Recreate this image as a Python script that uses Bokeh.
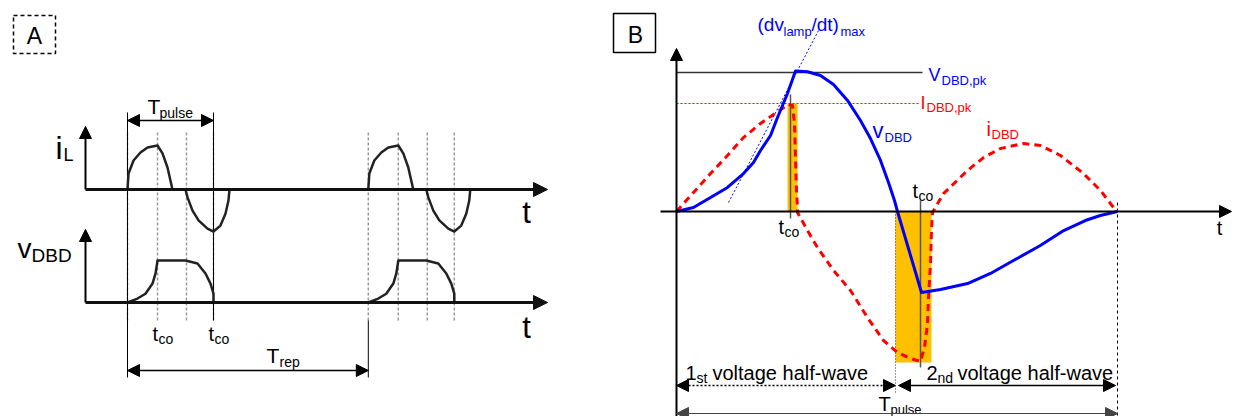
from bokeh.plotting import figure
from bokeh.models import Range1d, Arrow, NormalHead
from bokeh.layouts import row
from bokeh.core.properties import value
from bokeh.embed import file_html
from bokeh.resources import INLINE

FONT = "Liberation Sans"

# ---------------- Panel A data: time in units of T_pulse, amplitude normalised ----------------
A_T_PULSE = 1.0
A_T_REP = 2.80
A_MARK_T = [0.0, 0.349, 0.686, 1.0]
A_TCO_T = [0.349, 1.0]
A_IL_T = [0.0, 0.012, 0.07, 0.151, 0.233, 0.349, 0.407, 0.465, 0.5, 0.523,
          0.674, 0.698, 0.756, 0.826, 0.93, 1.0, 1.081, 1.14, 1.174, 1.186]
A_IL_Y = [0.0, 0.364, 0.66, 0.84, 0.955, 1.0, 0.82, 0.5, 0.2, 0.0,
          0.0, -0.18, -0.48, -0.7, -0.89, -0.955, -0.82, -0.545, -0.25, 0.0]
A_V_T = [0.0, 0.116, 0.209, 0.291, 0.326, 0.349, 0.674, 0.814, 0.907, 0.965, 1.0, 1.0]
A_V_Y = [0.0, 0.09, 0.2, 0.43, 0.66, 0.955, 0.955, 0.886, 0.66, 0.43, 0.2, 0.0]

# ---------------- Panel B data: time in units of T_pulse, amplitude normalised to V_DBD,pk ----
B_T_PULSE = 1.0
B_T_HALF = 0.4966
B_VPK = 1.0
B_IPK = 0.777
B_TCO_T = [0.2585, 0.5533]
B_SHADE_L = [0.2517, 0.4966]
B_SHADE_R = [0.2744, 0.5782]
B_SHADE_B = [0.0, -1.086]
B_SHADE_T = [0.777, 0.0]
B_V_T = [0.0, 0.0385, 0.0771, 0.1156, 0.1519, 0.1746, 0.1905, 0.2132, 0.2290, 0.2517,
         0.2698, 0.2971, 0.3265, 0.356, 0.3878, 0.4172, 0.4399, 0.4626, 0.4807, 0.4943,
         0.5011, 0.5556, 0.5986, 0.6599, 0.712, 0.764, 0.825, 0.878, 0.927, 0.961, 1.0]
B_V_Y = [0.0, 0.029, 0.101, 0.173, 0.273, 0.353, 0.439, 0.547, 0.676, 0.849,
         1.01, 1.005, 0.978, 0.914, 0.799, 0.655, 0.525, 0.367, 0.209, 0.079,
         0.0, -0.583, -0.561, -0.518, -0.446, -0.353, -0.245, -0.137, -0.065, -0.029, 0.0]
B_I_T = [0.0, 0.0385, 0.0771, 0.1156, 0.1519, 0.1905, 0.2200, 0.2540, 0.2630, 0.2676,
         0.2698, 0.2721, 0.2744, 0.2744, 0.2971, 0.3197, 0.3560, 0.3946, 0.4331, 0.4694,
         0.5011, 0.5306, 0.5533, 0.5624, 0.5692, 0.5714, 0.5760, 0.5782, 0.5805, 0.6054,
         0.6599, 0.6961, 0.7347, 0.7868, 0.8254, 0.8707, 0.9229, 0.9615, 0.9909, 1.0]
B_I_Y = [0.0, 0.137, 0.273, 0.403, 0.532, 0.633, 0.698, 0.770, 0.763, 0.633,
         0.388, 0.151, 0.029, -0.007, -0.137, -0.259, -0.424, -0.568, -0.763, -0.928,
         -1.014, -1.058, -1.079, -0.978, -0.806, -0.619, -0.374, -0.137, -0.007, 0.129,
         0.295, 0.388, 0.453, 0.489, 0.475, 0.403, 0.273, 0.151, 0.029, 0.0]
B_TAN_T = [0.118, 0.322]
B_TAN_Y = [0.065, 1.302]

BLUE = "#0000FF"
RED = "#FF0000"
ORANGE = "#FFC000"
H = 416
TXT_SHIFT = 0.33   # empirical baseline correction (fraction of font size)


# page-pixel -> data helpers (layout only)
def A_x(px):
    return (px - 127) / 86


def A_y(py):
    return (302 - py) / 44


def B_x(px):
    return (px - 676) / 441


def B_y(py):
    return (211 - py) / 139


def make_fig(w, x0, x1, y0, y1):
    p = figure(width=w, height=H, x_range=Range1d(x0, x1), y_range=Range1d(y0, y1),
               output_backend="svg", toolbar_location=None, x_axis_type=None,
               y_axis_type=None, min_border=0)
    p.grid.visible = False
    p.outline_line_color = None
    return p


def lbl(p, cx, cy, px, py, s, size, color="black", align="left"):
    p.text(x=[cx(px)], y=[cy(py - TXT_SHIFT * size)], text=[s], text_font=value(FONT),
           text_font_size=f"{size}px", text_color=color, text_align=align,
           text_baseline="alphabetic")


def arrow(p, x0, y0, x1, y1, color="black", width=1.5, dash="solid", both=False, size=12):
    end = NormalHead(size=size, fill_color=color, line_color=color, line_width=1)
    start = NormalHead(size=size, fill_color=color, line_color=color, line_width=1) if both else None
    p.add_layout(Arrow(start=start, end=end, x_start=x0, y_start=y0, x_end=x1, y_end=y1,
                       line_color=color, line_width=width, line_dash=dash))


# ======================= Panel A =======================
pA = make_fig(600, A_x(0), A_x(600), A_y(H), A_y(0))
IL_OFF = A_y(189)

for k in range(2):
    for t in A_MARK_T:
        tt = t + k * A_T_REP
        pA.line([tt, tt], [A_y(132), A_y(320)], line_color="#9a9a9a", line_width=1.5, line_dash="3 2")
pA.line([0, 0], [A_y(112), A_y(377)], line_color="black", line_width=1)
pA.line([A_T_PULSE, A_T_PULSE], [A_y(112), A_y(320)], line_color="black", line_width=1)
pA.line([A_T_REP, A_T_REP], [A_y(320), A_y(377)], line_color="black", line_width=1)

arrow(pA, A_x(85), IL_OFF, A_x(85), A_y(126), width=2, size=12)
arrow(pA, A_x(85), 0, A_x(85), A_y(229), width=2, size=12)
arrow(pA, A_x(85), IL_OFF, A_x(547), IL_OFF, color="#111111", width=3, size=14)
arrow(pA, A_x(85), 0, A_x(547), 0, color="#111111", width=3, size=14)

for k in range(2):
    pA.line([t + k * A_T_REP for t in A_IL_T], [y + IL_OFF for y in A_IL_Y],
            line_color="#222222", line_width=2.5, line_join="round")
    pA.line([t + k * A_T_REP for t in A_V_T], A_V_Y,
            line_color="#222222", line_width=2.5, line_join="round")

arrow(pA, 0, A_y(120), A_T_PULSE, A_y(120), width=1.5, both=True, size=12)
arrow(pA, 0, A_y(370), A_T_REP, A_y(370), width=1.5, both=True, size=12)

pA.quad(left=[A_x(13)], right=[A_x(55)], bottom=[A_y(53)], top=[A_y(15)],
        fill_color=None, line_color="black", line_width=1.5, line_dash="4 3")
lbl(pA, A_x, A_y, 34, 43, "A", 23, align="center")

lbl(pA, A_x, A_y, 147, 113, "T", 21)
lbl(pA, A_x, A_y, 159, 117, "pulse", 14)
lbl(pA, A_x, A_y, 55, 158, "i", 32)
lbl(pA, A_x, A_y, 63, 160, "L", 18)
lbl(pA, A_x, A_y, 17, 257, "v", 28)
lbl(pA, A_x, A_y, 31, 261, "DBD", 19)
lbl(pA, A_x, A_y, 526, 222, "t", 31, align="center")
lbl(pA, A_x, A_y, 526, 337, "t", 31, align="center")
for t in A_TCO_T:
    px0 = 127 + 86 * t
    lbl(pA, A_x, A_y, px0 - 5, 340, "t", 20)
    lbl(pA, A_x, A_y, px0 + 1, 343, "co", 14)
lbl(pA, A_x, A_y, 266, 362, "T", 21)
lbl(pA, A_x, A_y, 279, 366, "rep", 14)

# ======================= Panel B =======================
pB = make_fig(633, B_x(600), B_x(1233), B_y(H), B_y(0))

pB.quad(left=B_SHADE_L, right=B_SHADE_R, bottom=B_SHADE_B, top=B_SHADE_T,
        fill_color=ORANGE, line_color=None)

pB.line([0, B_x(922)], [B_VPK, B_VPK], line_color="#333333", line_width=1.5)
pB.line([0, B_x(920)], [B_IPK, B_IPK], line_color=RED, line_width=1, line_dash="2 2")
pB.line([B_TCO_T[0], B_TCO_T[0]], [B_y(94), B_y(218)], line_color="#555555", line_width=1.5)
pB.line([B_TCO_T[1], B_TCO_T[1]], [B_y(200), B_y(367)], line_color="#555555", line_width=1.5)
pB.line([B_T_HALF, B_T_HALF], [0, B_y(392)], line_color="#333333", line_width=1, line_dash="1 2")
pB.line([B_T_PULSE, B_T_PULSE], [B_y(202), B_y(H)], line_color="black", line_width=1, line_dash="3 3")

arrow(pB, 0, B_y(H), 0, B_y(48), width=2, size=12)
arrow(pB, B_x(660), 0, B_x(1231), 0, width=2, size=12)

pB.line(B_TAN_T, B_TAN_Y, line_color=BLUE, line_width=1, line_dash="2 2")

pB.line(B_I_T, B_I_Y, line_color=RED, line_width=3, line_dash="7 5", line_join="round")
pB.line(B_V_T, B_V_Y, line_color=BLUE, line_width=3, line_join="round")

arrow(pB, 0, B_y(385), B_T_HALF, B_y(385), width=1.5, dash="2 2", both=True, size=12)
arrow(pB, B_x(898), B_y(385), B_x(1115), B_y(385), width=1.5, both=True, size=12)
arrow(pB, 0, B_y(413), B_T_PULSE, B_y(413), color="#444444", width=1, both=True, size=12)

pB.quad(left=[B_x(613)], right=[B_x(655)], bottom=[B_y(52)], top=[B_y(13)],
        fill_color=None, line_color="black", line_width=1.5)
lbl(pB, B_x, B_y, 635, 42, "B", 23, align="center")

lbl(pB, B_x, B_y, 757, 30, "(dv", 19, BLUE)
lbl(pB, B_x, B_y, 783, 35, "lamp", 13, BLUE)
lbl(pB, B_x, B_y, 811, 30, "/dt)", 19, BLUE)
lbl(pB, B_x, B_y, 840, 35, "max", 13, BLUE)
lbl(pB, B_x, B_y, 928, 80, "V", 18, BLUE)
lbl(pB, B_x, B_y, 941, 84, "DBD,pk", 13, BLUE)
lbl(pB, B_x, B_y, 920, 108, "I", 18, RED)
lbl(pB, B_x, B_y, 926, 111, "DBD,pk", 13, RED)
lbl(pB, B_x, B_y, 872, 137, "v", 22, BLUE)
lbl(pB, B_x, B_y, 884, 141, "DBD", 13, BLUE)
lbl(pB, B_x, B_y, 986, 135, "i", 20, RED)
lbl(pB, B_x, B_y, 991, 138, "DBD", 13, RED)
lbl(pB, B_x, B_y, 1219, 234, "t", 20, align="center")
lbl(pB, B_x, B_y, 912, 197, "t", 20)
lbl(pB, B_x, B_y, 918, 200, "co", 14)
lbl(pB, B_x, B_y, 778, 233, "t", 20)
lbl(pB, B_x, B_y, 784, 236, "co", 14)
lbl(pB, B_x, B_y, 685, 379, "1", 20)
lbl(pB, B_x, B_y, 696, 382, "st", 14)
lbl(pB, B_x, B_y, 712, 379, "voltage half-wave", 20)
lbl(pB, B_x, B_y, 926, 379, "2", 20)
lbl(pB, B_x, B_y, 937, 382, "nd", 14)
lbl(pB, B_x, B_y, 957, 379, "voltage half-wave", 20)
lbl(pB, B_x, B_y, 878, 410, "T", 20)
lbl(pB, B_x, B_y, 890, 413, "pulse", 13)

layout = row(pA, pB)
open("out.html", "w").write(file_html(layout, INLINE))
